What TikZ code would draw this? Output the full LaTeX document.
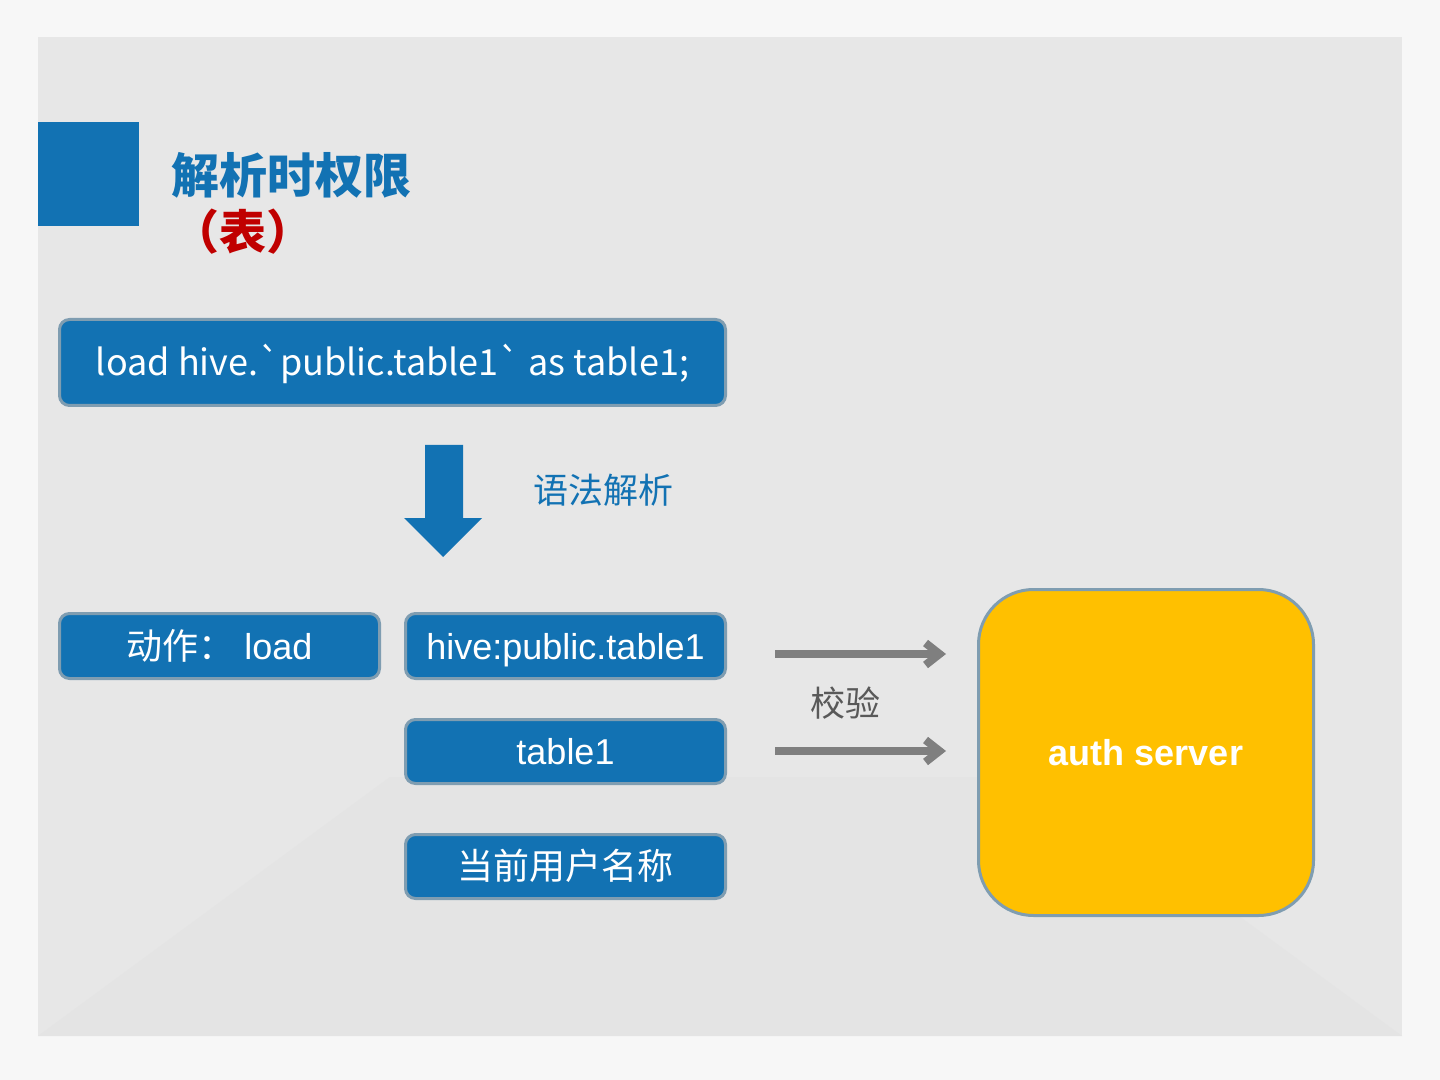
\documentclass[tikz,border=0pt]{standalone}
\usepackage{fontspec}
\setmainfont{Liberation Sans}
\newfontfamily\cjk{Noto Sans CJK SC}
\usetikzlibrary{arrows.meta}
\definecolor{bblue}{HTML}{1272B3}
\definecolor{bord}{HTML}{7F9DB1}
\definecolor{ayellow}{HTML}{FFC000}
\definecolor{tred}{HTML}{C00000}
\definecolor{agray}{HTML}{7F7F7F}
\definecolor{tgray}{HTML}{595959}
\definecolor{pagebg}{HTML}{F7F7F7}
\definecolor{slidebg}{HTML}{E7E7E7}
\definecolor{floorbg}{HTML}{E4E4E4}
\begin{document}
\begin{tikzpicture}[x=0.5pt,y=-0.5pt,
  bluebox/.style={draw=bord, line width=1.5pt, fill=bblue, rounded corners=5pt,
    text=white, font=\fontsize{18}{21}\selectfont, inner sep=0pt,
    text height=13pt, text depth=0pt},
  authbox/.style={draw=bord, line width=1.5pt, fill=ayellow, rounded corners=27.5pt,
    text=white, font=\bfseries\fontsize{18}{21}\selectfont, inner sep=0pt,
    minimum width=167.5pt, minimum height=163pt, text height=13pt, text depth=0pt},
  grayarrow/.style={draw=agray, line width=4pt,
    -{Straight Barb[length=7pt,width=11pt]}},
  lbl/.style={inner sep=0pt, font=\cjk\fontsize{17.5}{20}\selectfont}
]
\useasboundingbox (0,0) rectangle (1440,1080);
% background
\fill[pagebg] (0,0) rectangle (1440,1080);
\fill[slidebg] (38,37) rectangle (1402,1036);
\fill[floorbg] (38,1036) -- (390,777) -- (1050,777) -- (1402,1036) -- cycle;
% title
\fill[bblue] (38,122) rectangle (139,226);
\node[anchor=west, inner sep=0pt, text=bblue, font=\cjk\bfseries\fontsize{24}{27}\selectfont] (title) at (171,175) {解析时权限};
\node[inner sep=0pt, text=tred, font=\cjk\bfseries\fontsize{23.5}{26}\selectfont] (sub) at (243,232) {（表）};
% top statement box
\node[bluebox, minimum width=333pt, minimum height=43pt, font=\cjk\fontsize{18}{21}\selectfont] (stmt) at (392.5,362.5) {load hive.`public.table1` as table1;};
% big down arrow
\fill[bblue] (425,445) -- (463,445) -- (463,518) -- (482,518) -- (443,557) -- (404,518) -- (425,518) -- cycle;
\node[lbl, anchor=west, text=bblue] (parse) at (533,490) {语法解析};
% result boxes
\node[bluebox, minimum width=160pt, minimum height=32.5pt] (act) at (219.5,646) {{\cjk 动作：}\ load};
\node[bluebox, minimum width=160pt, minimum height=32.5pt] (hive) at (565.5,646) {hive:public.table1};
\node[bluebox, minimum width=160pt, minimum height=32pt] (tbl) at (565.5,751.5) {table1};
\node[bluebox, minimum width=160pt, minimum height=32pt, font=\cjk\fontsize{18}{21}\selectfont] (user) at (565.5,866.5) {当前用户名称};
% auth server
\node[authbox] (auth) at (1146,752.5) {auth server};
% check arrows
\coordinate (a1s) at (775,654);
\coordinate (a1e) at (946,654);
\coordinate (a2s) at (775,751);
\coordinate (a2e) at (946,751);
\draw[grayarrow] (a1s) -- (a1e);
\draw[grayarrow] (a2s) -- (a2e);
\node[lbl, text=tgray] (check) at (845,703) {校验};
\end{tikzpicture}
\end{document}
